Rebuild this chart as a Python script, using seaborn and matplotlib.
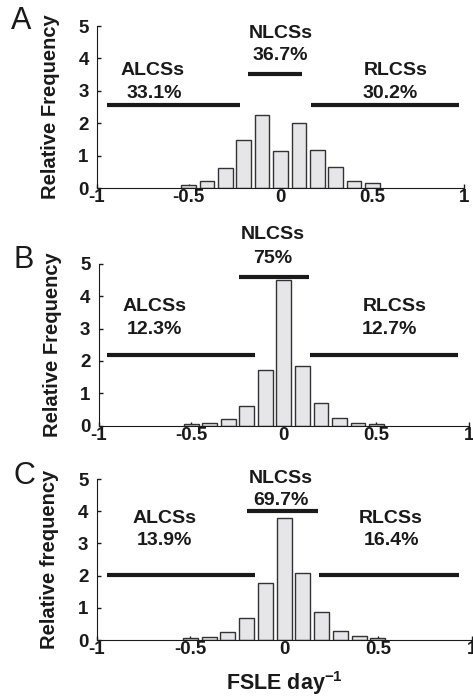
import matplotlib
matplotlib.use("Agg")
import matplotlib.pyplot as plt
import seaborn as sns

# FSLE bin centres (day^-1)
bin_centers = [-0.5, -0.4, -0.3, -0.2, -0.1, 0.0, 0.1, 0.2, 0.3, 0.4, 0.5]

# relative frequency
freq_a = [0.10, 0.23, 0.62, 1.49, 2.26, 1.14, 2.01, 1.17, 0.66, 0.23, 0.16]
freq_b = [0.04, 0.07, 0.20, 0.62, 1.71, 4.49, 1.85, 0.69, 0.23, 0.07, 0.04]
freq_c = [0.05, 0.09, 0.26, 0.67, 1.76, 3.80, 2.09, 0.87, 0.28, 0.12, 0.07]

classes = ["ALCSs", "NLCSs", "RLCSs"]
pct_a = ["33.1%", "36.7%", "30.2%"]
pct_b = ["12.3%", "75%", "12.7%"]
pct_c = ["13.9%", "69.7%", "16.4%"]

# FSLE range covered by each class bar and its height
range_a = [(-0.945, -0.222), (-0.178, 0.118), (0.164, 0.973)]
range_b = [(-0.957, -0.156), (-0.241, 0.137), (0.140, 0.940)]
range_c = [(-0.947, -0.155), (-0.196, 0.178), (0.183, 0.930)]
level_a = [2.57, 3.53, 2.57]
level_b = [2.19, 4.61, 2.19]
level_c = [2.03, 4.00, 2.03]

sns.set_style("ticks")
plt.rcParams["font.family"] = ["Liberation Sans", "DejaVu Sans"]
plt.rcParams["mathtext.fontset"] = "custom"
plt.rcParams["mathtext.bf"] = "Liberation Sans:bold"
plt.rcParams["mathtext.rm"] = "Liberation Sans:bold"

fig = plt.figure(figsize=(4.73, 7.0), dpi=100)

panels = [
    dict(rect=[0.205, 0.7314, 0.776, 0.2314], freq=freq_a, pct=pct_a, rng=range_a,
         lev=level_a, ylabel="Relative Frequency", letter="A", lpos=(21, 21),
         name_xy=[(-0.70, 3.63), (0.0, 4.76), (0.63, 3.63)],
         pct_xy=[(-0.69, 2.91), (0.0, 4.10), (0.60, 2.91)]),
    dict(rect=[0.2087, 0.3919, 0.783, 0.231], freq=freq_b, pct=pct_b, rng=range_b,
         lev=level_b, ylabel="Relative Frequency", letter="B", lpos=(24, 260),
         name_xy=[(-0.70, 3.68), (-0.06, 5.90), (0.60, 3.68)],
         pct_xy=[(-0.70, 2.96), (-0.06, 5.18), (0.57, 2.96)]),
    dict(rect=[0.2044, 0.0857, 0.793, 0.23], freq=freq_c, pct=pct_c, rng=range_c,
         lev=level_c, ylabel="Relative frequency", letter="C", lpos=(24, 476),
         name_xy=[(-0.64, 3.78), (-0.02, 5.02), (0.57, 3.78)],
         pct_xy=[(-0.64, 3.10), (-0.02, 4.32), (0.57, 3.10)]),
]

for i, p in enumerate(panels):
    ax = fig.add_axes(p["rect"])
    sns.barplot(
        x=bin_centers,
        y=p["freq"],
        native_scale=True,
        width=0.8,
        color="#e6e6e8",
        saturation=1,
        edgecolor="#333333",
        linewidth=1.0,
        ax=ax,
    )

    for (x0, x1), lev in zip(p["rng"], p["lev"]):
        ax.hlines(lev, x0, x1, color="#1a1a1a", linewidth=3.0, clip_on=False)

    for name, pct, nxy, pxy in zip(classes, p["pct"], p["name_xy"], p["pct_xy"]):
        ax.text(nxy[0], nxy[1], name, ha="center", va="center",
                fontsize=14, fontweight="bold", color="#1a1a1a")
        ax.text(pxy[0], pxy[1], pct, ha="center", va="center",
                fontsize=14, fontweight="bold", color="#1a1a1a")

    ax.set_xlim(-1, 1)
    ax.set_ylim(0, 5)
    ax.set_xticks([-1, -0.5, 0, 0.5, 1])
    ax.set_xticklabels(["-1", "-0.5", "0", "0.5", "1"])
    ax.set_yticks([0, 1, 2, 3, 4, 5])
    ax.tick_params(axis="both", direction="in", length=3, width=1,
                   labelsize=13.5, colors="#1a1a1a")
    ax.tick_params(axis="x", pad=1)
    ax.tick_params(axis="y", pad=6)
    for lab in ax.get_xticklabels() + ax.get_yticklabels():
        lab.set_fontweight("bold")
    sns.despine(ax=ax)
    ax.spines["left"].set_color("#1a1a1a")
    ax.spines["bottom"].set_color("#1a1a1a")

    ax.set_ylabel(p["ylabel"], fontsize=14.5, fontweight="bold", color="#1a1a1a")
    ax.yaxis.set_label_coords(-0.10, 0.5)
    ax.set_xlabel("")

    fig.text(p["lpos"][0] / 473, 1 - p["lpos"][1] / 700, p["letter"],
             fontsize=22, ha="center", va="center", color="#1a1a1a")

    if i == 2:
        ax.set_xlabel(r"FSLE day$^{\mathbf{-1}}$", fontsize=15.5,
                      fontweight="bold", color="#1a1a1a", labelpad=8)

fig.savefig("out.png", dpi=100)
